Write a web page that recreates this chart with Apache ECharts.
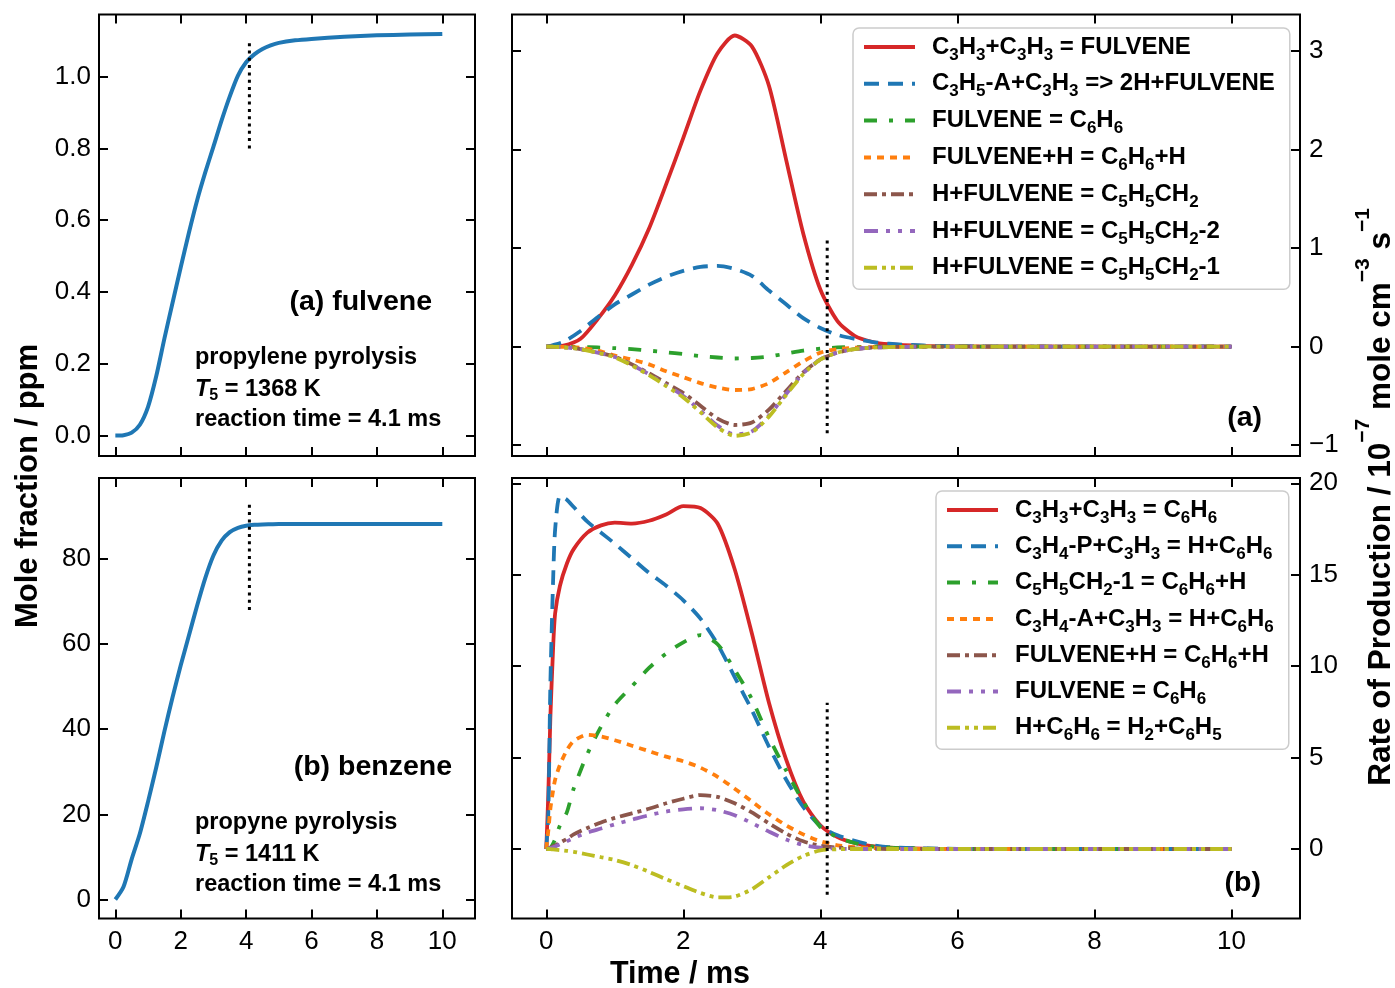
<!DOCTYPE html>
<html>
<head>
<meta charset="utf-8">
<title>Fulvene and benzene formation</title>
<script src="https://cdn.jsdelivr.net/npm/echarts@6/dist/echarts.min.js"></script>
<style>
  html, body { margin: 0; padding: 0; background: #ffffff; }
  #chart { width: 1395px; height: 988px; }
</style>
</head>
<body>
<div id="chart"></div>
<script>
// ---------------- data ----------------
// time grids (ms)
const timeA = [0, 0.25, 0.5, 0.75, 1, 1.25, 1.5, 1.75, 2, 2.25, 2.5, 2.75, 3, 3.25, 3.5, 3.75, 4, 4.25, 4.5, 4.75, 5, 5.5, 6, 7, 8, 9, 10];
const timeB = [0, 0.03, 0.06, 0.1, 0.13, 0.2, 0.3, 0.4, 0.6, 0.8, 1, 1.25, 1.5, 1.75, 2, 2.25, 2.5, 2.75, 3, 3.25, 3.5, 3.75, 4, 4.25, 4.5, 4.75, 5, 5.5, 6, 7, 8, 9, 10];

// mole fractions (ppm) on timeA
const fulveneMole = [0, 0.001, 0.008, 0.03, 0.08, 0.165, 0.27, 0.37, 0.469, 0.565, 0.655, 0.733, 0.805, 0.878, 0.945, 1.003, 1.04, 1.062, 1.077, 1.087, 1.094, 1.101, 1.105, 1.111, 1.115, 1.117, 1.119];
const benzeneMole = [0, 3, 9.5, 15.5, 23, 31, 39.5, 47.5, 55, 62, 69, 75.5, 80.8, 84.3, 86.3, 87.3, 87.8, 88.0, 88.1, 88.15, 88.2, 88.2, 88.2, 88.2, 88.2, 88.2, 88.2];

// rates of production of fulvene (1e-7 mole cm^-3 s^-1) on timeA
const ropA_c3h3c3h3 = [0, 0.01, 0.08, 0.28, 0.52, 0.83, 1.2, 1.65, 2.12, 2.6, 2.98, 3.16, 3.05, 2.65, 1.9, 1.15, 0.58, 0.26, 0.11, 0.05, 0.025, 0.008, 0.003, 0, 0, 0, 0];
const ropA_c3h5a = [0, 0.05, 0.16, 0.3, 0.43, 0.53, 0.63, 0.71, 0.77, 0.81, 0.82, 0.79, 0.72, 0.57, 0.43, 0.29, 0.19, 0.12, 0.08, 0.05, 0.03, 0.012, 0.005, 0, 0, 0, 0];
const ropA_isom = [0, 0, -0.003, -0.008, -0.015, -0.025, -0.04, -0.057, -0.075, -0.095, -0.11, -0.12, -0.115, -0.1, -0.07, -0.04, -0.02, -0.008, -0.004, -0.002, 0, 0, 0, 0, 0, 0, 0];
const ropA_hassist = [0, -0.002, -0.01, -0.04, -0.09, -0.13, -0.18, -0.25, -0.31, -0.37, -0.415, -0.44, -0.43, -0.37, -0.26, -0.15, -0.06, -0.025, -0.01, -0.005, -0.002, 0, 0, 0, 0, 0, 0];
const ropA_hadd = [0, -0.005, -0.025, -0.06, -0.1, -0.18, -0.27, -0.37, -0.47, -0.6, -0.73, -0.795, -0.77, -0.64, -0.45, -0.26, -0.13, -0.06, -0.025, -0.01, -0.004, 0, 0, 0, 0, 0, 0];
const ropA_hadd2 = [0, -0.005, -0.025, -0.06, -0.105, -0.185, -0.28, -0.39, -0.5, -0.65, -0.8, -0.89, -0.86, -0.7, -0.48, -0.27, -0.13, -0.06, -0.025, -0.01, -0.004, 0, 0, 0, 0, 0, 0];
const ropA_hadd1 = [0, -0.005, -0.025, -0.062, -0.108, -0.19, -0.29, -0.4, -0.515, -0.665, -0.82, -0.905, -0.87, -0.71, -0.49, -0.28, -0.13, -0.06, -0.025, -0.01, -0.004, 0, 0, 0, 0, 0, 0];

// rates of production of benzene (1e-7 mole cm^-3 s^-1) on timeB
const ropB_c3h3c3h3 = [0, 3.0, 7.2, 11.0, 12.9, 14.4, 15.6, 16.4, 17.3, 17.7, 17.85, 17.8, 17.95, 18.3, 18.75, 18.65, 17.8, 15.3, 11.8, 8.0, 4.9, 2.6, 1.3, 0.65, 0.33, 0.16, 0.08, 0.02, 0.005, 0, 0, 0, 0];
const ropB_c3h4p = [0, 2, 9, 14.7, 17.5, 19.3, 19.1, 18.7, 17.9, 17.3, 16.7, 15.9, 15.1, 14.4, 13.6, 12.6, 11.2, 9.4, 7.6, 5.6, 3.8, 2.3, 1.25, 0.75, 0.45, 0.22, 0.1, 0.03, 0.01, 0, 0, 0, 0];
const ropB_c5h5ch2 = [0, 0, 0.05, 0.3, 0.55, 1.3, 2.0, 3.3, 5.2, 6.7, 7.9, 8.9, 9.9, 10.7, 11.3, 11.7, 11.2, 9.8, 8.2, 6.1, 4.3, 2.6, 1.2, 0.65, 0.33, 0.15, 0.07, 0.02, 0, 0, 0, 0, 0];
const ropB_c3h4a = [0, 1.0, 2.2, 3.2, 3.8, 4.6, 5.4, 5.9, 6.25, 6.15, 5.95, 5.65, 5.35, 5.05, 4.8, 4.45, 3.95, 3.3, 2.6, 1.9, 1.3, 0.8, 0.42, 0.2, 0.1, 0.05, 0.02, 0, 0, 0, 0, 0, 0];
const ropB_hassist = [0, 0.03, 0.07, 0.15, 0.2, 0.35, 0.55, 0.8, 1.15, 1.45, 1.7, 1.95, 2.2, 2.5, 2.75, 2.95, 2.85, 2.5, 2.0, 1.4, 0.85, 0.42, 0.18, 0.08, 0.03, 0.01, 0, 0, 0, 0, 0, 0, 0];
const ropB_isom = [0, 0.02, 0.05, 0.1, 0.14, 0.25, 0.42, 0.6, 0.9, 1.12, 1.35, 1.6, 1.85, 2.05, 2.17, 2.23, 2.12, 1.85, 1.42, 0.95, 0.52, 0.22, 0.07, 0.02, 0, 0, 0, 0, 0, 0, 0, 0, 0];
const ropB_abstr = [0, 0, -0.01, -0.02, -0.03, -0.06, -0.1, -0.15, -0.3, -0.45, -0.6, -0.88, -1.25, -1.65, -2.03, -2.4, -2.65, -2.6, -2.2, -1.55, -0.9, -0.38, -0.08, -0.01, 0, 0, 0, 0, 0, 0, 0, 0, 0];

// reaction time marker (ms) and the value span of its dotted line in each panel
const reactionTime = 4.1;
const markFulveneMole = [0.8, 1.1];
const markBenzeneMole = [68, 93.5];
const markFulveneRop = [-0.88, 1.08];
const markBenzeneRop = [-2.5, 8.0];

// tick values
const timeTicks = [0, 2, 4, 6, 8, 10];
const fulveneMoleTicks = [0, 0.2, 0.4, 0.6, 0.8, 1.0];
const benzeneMoleTicks = [0, 20, 40, 60, 80];
const fulveneRopTicks = [-1, 0, 1, 2, 3];
const benzeneRopTicks = [0, 5, 10, 15, 20];

// reaction labels (rich-text markup, {s|..} = subscript)
const ropALabels = [
  'C{s|3}H{s|3}+C{s|3}H{s|3} = FULVENE',
  'C{s|3}H{s|5}-A+C{s|3}H{s|3} => 2H+FULVENE',
  'FULVENE = C{s|6}H{s|6}',
  'FULVENE+H = C{s|6}H{s|6}+H',
  'H+FULVENE = C{s|5}H{s|5}CH{s|2}',
  'H+FULVENE = C{s|5}H{s|5}CH{s|2}-2',
  'H+FULVENE = C{s|5}H{s|5}CH{s|2}-1'
];
const ropBLabels = [
  'C{s|3}H{s|3}+C{s|3}H{s|3} = C{s|6}H{s|6}',
  'C{s|3}H{s|4}-P+C{s|3}H{s|3} = H+C{s|6}H{s|6}',
  'C{s|5}H{s|5}CH{s|2}-1 = C{s|6}H{s|6}+H',
  'C{s|3}H{s|4}-A+C{s|3}H{s|3} = H+C{s|6}H{s|6}',
  'FULVENE+H = C{s|6}H{s|6}+H',
  'FULVENE = C{s|6}H{s|6}',
  'H+C{s|6}H{s|6} = H{s|2}+C{s|6}H{s|5}'
];

// ---------------- styling ----------------
const FONT = '"Liberation Sans", Arial, Helvetica, sans-serif';
const COLORS = ['#d62728', '#1f77b4', '#2ca02c', '#ff7f0e', '#8c564b', '#9467bd', '#bcbd22'];
const DASHES = ['solid', [15, 9], [13, 12, 4, 12], [7, 6], [13, 5, 4, 5], [14, 8, 4, 8, 4, 8], [13, 5, 4, 5, 4, 5]];
const MOLE_COLOR = '#1f77b4';
const ROP_WIDTH = 3.8;

const plain = s => s.replace(/\{s\|([^}]*)\}/g, '$1');
const labelMap = {};
const namesA = ropALabels.map(l => { const n = plain(l) + ' (a)'; labelMap[n] = l; return n; });
const namesB = ropBLabels.map(l => { const n = plain(l) + ' (b)'; labelMap[n] = l; return n; });

const pairs = (times, values) => times.map((t, i) => [t, values[i]]);

function curve(name, times, values, xi, yi, color, dash, width) {
  return {
    type: 'line', name, xAxisIndex: xi, yAxisIndex: yi,
    data: pairs(times, values),
    symbol: 'none', smooth: 0.25,
    lineStyle: { color, width, type: dash, cap: 'butt', join: 'round' },
    itemStyle: { color },
    emphasis: { disabled: true }
  };
}
function marker(xi, yi, span) {
  return {
    type: 'line', name: 'reaction time', xAxisIndex: xi, yAxisIndex: yi,
    data: [[reactionTime, span[0]], [reactionTime, span[1]]],
    symbol: 'none', lineStyle: { color: '#000', width: 3, type: [3, 4.3] },
    emphasis: { disabled: true }, z: 5
  };
}

// panels: 0 fulvene mole, 1 benzene mole, 2 fulvene ROP, 3 benzene ROP
const grids = [
  { left: 99, top: 14.5, width: 376, height: 441.5 },
  { left: 99, top: 478, width: 376, height: 440.5 },
  { left: 512, top: 14.5, width: 788, height: 441.5 },
  { left: 512, top: 478, width: 788, height: 440.5 }
].map(g => Object.assign(g, {
  show: true, borderColor: '#000', borderWidth: 2, backgroundColor: 'transparent',
  containLabel: false, outerBoundsMode: 'none'
}));

const yRanges = [[-0.057, 1.173], [-4.45, 99], [-1.11, 3.373], [-3.8, 20.29]];
const yTickSets = [fulveneMoleTicks, benzeneMoleTicks, fulveneRopTicks, benzeneRopTicks];
const yFormat = [
  v => v.toFixed(1),
  v => String(v),
  v => (v < 0 ? '\u2212' + Math.abs(v) : String(v)),
  v => String(v)
];
const tickText = { fontFamily: FONT, fontSize: 26, color: '#000' };
const tickLine = { color: '#000', width: 2 };

const xAxes = [], yAxes = [];
for (let g = 0; g < 4; g++) {
  const bottomRow = g === 1 || g === 3;
  ['bottom', 'top'].forEach(pos => {
    xAxes.push({
      type: 'value', gridIndex: g, position: pos, min: -0.5, max: 11,
      axisLine: { show: false, onZero: false }, splitLine: { show: false },
      axisTick: { show: true, inside: true, length: 9, lineStyle: tickLine, customValues: timeTicks },
      axisLabel: Object.assign({ show: pos === 'bottom' && bottomRow, customValues: timeTicks, margin: 10 }, tickText)
    });
  });
  const labelSide = g < 2 ? 'left' : 'right';
  ['left', 'right'].forEach(pos => {
    yAxes.push({
      type: 'value', gridIndex: g, position: pos, min: yRanges[g][0], max: yRanges[g][1],
      axisLine: { show: false, onZero: false }, splitLine: { show: false },
      axisTick: { show: true, inside: true, length: 9, lineStyle: tickLine, customValues: yTickSets[g] },
      axisLabel: Object.assign({
        show: pos === labelSide, customValues: yTickSets[g], margin: pos === 'left' ? 8 : 9,
        formatter: yFormat[g]
      }, tickText)
    });
  });
}

const series = [];
series.push(curve('fulvene', timeA, fulveneMole, 0, 0, MOLE_COLOR, 'solid', 4));
series.push(marker(0, 0, markFulveneMole));
series.push(curve('benzene', timeA, benzeneMole, 2, 2, MOLE_COLOR, 'solid', 4));
series.push(marker(2, 2, markBenzeneMole));

const ropA = [ropA_c3h3c3h3, ropA_c3h5a, ropA_isom, ropA_hassist, ropA_hadd, ropA_hadd2, ropA_hadd1];
const ropB = [ropB_c3h3c3h3, ropB_c3h4p, ropB_c5h5ch2, ropB_c3h4a, ropB_hassist, ropB_isom, ropB_abstr];
ropA.forEach((vals, i) => series.push(curve(namesA[i], timeA, vals, 4, 5, COLORS[i], DASHES[i], ROP_WIDTH)));
series.push(marker(4, 5, markFulveneRop));
ropB.forEach((vals, i) => series.push(curve(namesB[i], timeB, vals, 6, 7, COLORS[i], DASHES[i], ROP_WIDTH)));
series.push(marker(6, 7, markBenzeneRop));

// subscripts sit in a short box pinned to the bottom of the line
const legendText = {
  fontFamily: FONT, fontWeight: 'bold', fontSize: 24, color: '#000', lineHeight: 26,
  rich: {
    s: { fontFamily: FONT, fontWeight: 'bold', fontSize: 17, color: '#000', height: 10, lineHeight: 10, verticalAlign: 'bottom' },
    g: { width: 12, fontSize: 24, lineHeight: 26 }
  }
};
function legendBox(names, left, top, gap) {
  return {
    show: true, orient: 'vertical', left, top, data: names,
    formatter: n => '{g| }' + labelMap[n],
    textStyle: legendText, itemWidth: 51, itemHeight: 14, itemGap: gap,
    padding: [6, 15, 5, 9], backgroundColor: 'rgba(255,255,255,0.85)',
    borderColor: '#cccccc', borderWidth: 1.5, borderRadius: 6,
    selectedMode: false, lineStyle: { width: 4 }, itemStyle: { opacity: 0 }
  };
}

// free text: panel tags, conditions and axis titles
function text(x, y, str, opt) {
  return {
    type: 'text', x, y, silent: true, rotation: opt.rotation || 0,
    style: Object.assign({
      text: str, fill: '#000', fontFamily: FONT, fontWeight: 'bold', fontSize: 23.5,
      align: 'left', verticalAlign: 'middle'
    }, opt.style || {})
  };
}
const condRich = {
  i: { fontFamily: FONT, fontWeight: 'bold', fontStyle: 'italic', fontSize: 23.5, lineHeight: 28, fill: '#000' },
  s: { fontFamily: FONT, fontWeight: 'bold', fontSize: 16, height: 17, lineHeight: 17, verticalAlign: 'bottom', fill: '#000' }
};
const supRich = {
  p: { fontFamily: FONT, fontWeight: 'bold', fontSize: 21, lineHeight: 20, verticalAlign: 'top', fill: '#000' }
};

const graphic = [
  text(432, 302, '(a) fulvene', { style: { fontSize: 28.5, align: 'right' } }),
  text(195, 358, 'propylene pyrolysis', {}),
  text(195, 390, '{i|T}{s|5} = 1368 K', { style: { lineHeight: 28, rich: condRich } }),
  text(195, 420, 'reaction time = 4.1 ms', {}),
  text(452, 767, '(b) benzene', { style: { fontSize: 28.5, align: 'right' } }),
  text(195, 823, 'propyne pyrolysis', {}),
  text(195, 855, '{i|T}{s|5} = 1411 K', { style: { lineHeight: 28, rich: condRich } }),
  text(195, 885, 'reaction time = 4.1 ms', {}),
  text(1262, 418, '(a)', { style: { fontSize: 28.5, align: 'right' } }),
  text(1261, 883, '(b)', { style: { fontSize: 28.5, align: 'right' } }),
  text(680, 975, 'Time / ms', { style: { fontSize: 30.5, align: 'center' } }),
  text(28, 486, 'Mole fraction / ppm', { rotation: Math.PI / 2, style: { fontSize: 31, align: 'center' } }),
  text(1381, 497, 'Rate of Production / 10{p|\u22127} mole cm{p|\u22123} s{p|\u22121}',
       { rotation: Math.PI / 2, style: { fontSize: 31.5, lineHeight: 56, align: 'center', rich: supRich } })
];

const chart = echarts.init(document.getElementById('chart'), null, { renderer: 'canvas' });
chart.setOption({
  backgroundColor: '#ffffff',
  animation: false,
  grid: grids,
  xAxis: xAxes,
  yAxis: yAxes,
  legend: [legendBox(namesA, 853, 28, 7.3), legendBox(namesB, 936, 491, 6.8)],
  series,
  graphic
});
</script>
</body>
</html>
